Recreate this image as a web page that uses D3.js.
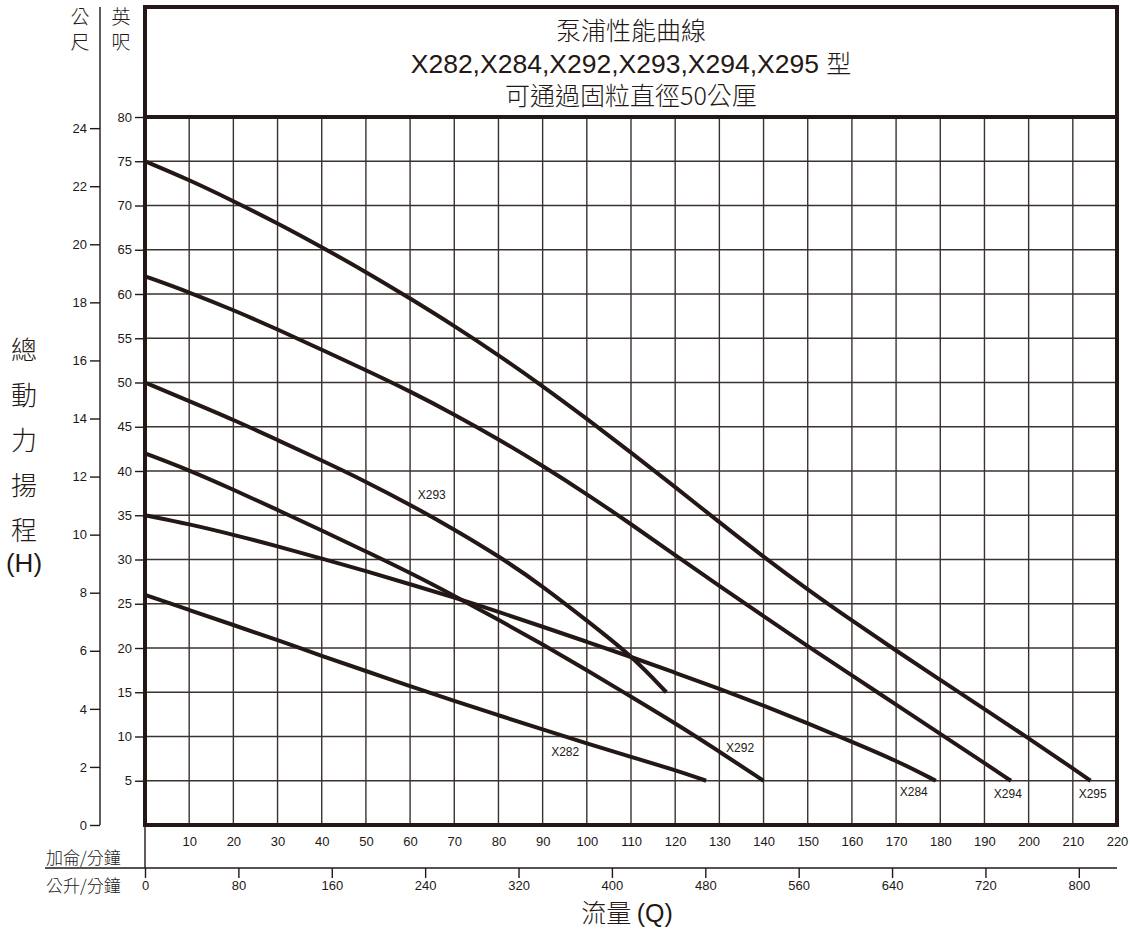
<!DOCTYPE html>
<html>
<head>
<meta charset="utf-8">
<script src="https://cdn.jsdelivr.net/npm/d3@7"></script>
<style>
  body { margin: 0; background: #fff; }
  svg text { fill: #231815; }
  .cjk { font-family: "Noto Sans CJK TC", "Noto Sans CJK SC", sans-serif; font-weight: 300; }
  .num { font-family: "Liberation Sans Narrow", "Liberation Sans", Arial, sans-serif; font-size: 13px; }
</style>
</head>
<body>
<svg id="chart"></svg>
<script>
// flow in US gal/min, head in feet
const x282Flow = [0, 10, 20, 30, 40, 50, 60, 70, 80, 90, 100, 110, 120, 127];
const x282Head = [26, 24.3, 22.6, 20.9, 19.1, 17.4, 15.7, 14.0, 12.4, 10.8, 9.2, 7.7, 6.2, 5];

const x284Flow = [0, 10, 20, 30, 40, 50, 60, 70, 80, 90, 100, 110, 120, 130, 140, 150, 160, 170, 179];
const x284Head = [35, 34.0, 32.8, 31.5, 30.1, 28.7, 27.2, 25.7, 24.1, 22.4, 20.7, 19.0, 17.2, 15.4, 13.5, 11.5, 9.4, 7.3, 5];

const x292Flow = [0, 10, 20, 30, 40, 50, 60, 70, 80, 90, 100, 110, 120, 130, 140];
const x292Head = [42, 40.1, 37.9, 35.6, 33.3, 30.9, 28.5, 25.9, 23.2, 20.4, 17.5, 14.5, 11.5, 8.3, 5];

const x293Flow = [0, 10, 20, 30, 40, 50, 60, 70, 80, 90, 100, 110, 118];
const x293Head = [50, 47.9, 45.8, 43.5, 41.2, 38.8, 36.2, 33.4, 30.4, 27.0, 23.1, 19.2, 15];

const x294Flow = [0, 10, 20, 30, 40, 50, 60, 70, 80, 90, 100, 110, 120, 130, 140, 150, 160, 170, 180, 190, 196];
const x294Head = [62, 60.2, 58.2, 56.0, 53.7, 51.4, 49.0, 46.4, 43.6, 40.6, 37.4, 34.0, 30.5, 27.0, 23.6, 20.2, 16.9, 13.6, 10.3, 7.0, 5];

const x295Flow = [0, 10, 20, 30, 40, 50, 60, 70, 80, 90, 100, 110, 120, 130, 140, 150, 160, 170, 180, 190, 200, 210, 214];
const x295Head = [75, 72.9, 70.5, 68.0, 65.3, 62.5, 59.5, 56.4, 53.1, 49.6, 45.9, 42.1, 38.2, 34.2, 30.3, 26.6, 23.1, 19.7, 16.4, 13.1, 9.8, 6.4, 5];

const modelNames = ["X282", "X284", "X292", "X293", "X294", "X295"];
// where each model name is written (gal/min, ft)
const labelFlow = [95.1, 174.0, 134.7, 64.9, 195.3, 214.5];
const labelHead = [8.3, 3.76, 8.7, 37.3, 3.53, 3.53];

const gpmTicks = d3.range(10, 221, 10);
const lpmTicks = d3.range(0, 801, 80);
const ftTicks = d3.range(5, 81, 5);
const mTicks = d3.range(0, 25, 2);

const titleLines = ["泵浦性能曲線", "X282,X284,X292,X293,X294,X295 ", "型", "可通過固粒直徑50公厘"];
const yTitle = ["總", "動", "力", "揚", "程", "(H)"];

const W = 1130, H = 949;
const plotL = 145, plotR = 1117, frameT = 7, plotB = 825, plotT = 117;
const ink = "#231815", gridInk = "#3a3230";

const svg = d3.select("#chart").attr("width", W).attr("height", H);

const x = d3.scaleLinear().domain([0, 220]).range([plotL, plotR]);
const y = d3.scaleLinear().domain([0, 80]).range([plotB, plotT]);
const yM = d3.scaleLinear().domain([0, 80 * 0.3048]).range([plotB, plotT]);
const xL = d3.scaleLinear().domain([0, 220 * 3.785]).range([plotL, plotR]);

// grid
const grid = svg.append("g").attr("stroke", gridInk).attr("stroke-width", 1.4);
grid.selectAll(".gv").data(gpmTicks.filter(d => d < 220)).enter().append("line")
  .attr("x1", d => x(d)).attr("x2", d => x(d))
  .attr("y1", y(80)).attr("y2", y(0));
grid.selectAll(".gh").data(ftTicks.filter(d => d < 80)).enter().append("line")
  .attr("x1", x(0)).attr("x2", x(220))
  .attr("y1", d => y(d)).attr("y2", d => y(d));

// feet axis
const ftAxis = svg.append("g").attr("transform", `translate(${plotL},0)`)
  .call(d3.axisLeft(y).tickValues(ftTicks).tickSize(10).tickPadding(3).tickSizeOuter(0));
ftAxis.select(".domain").remove();

// metre axis
const mAxis = svg.append("g").attr("transform", "translate(100,0)")
  .call(d3.axisLeft(yM).tickValues(mTicks).tickSize(10).tickPadding(3).tickSizeOuter(0));
mAxis.select(".domain").remove();
svg.append("line").attr("x1", 100).attr("x2", 100).attr("y1", frameT).attr("y2", plotB)
  .attr("stroke", ink).attr("stroke-width", 1.4);

// gallons axis
const gAxis = svg.append("g").attr("transform", `translate(0,${plotB})`)
  .call(d3.axisBottom(x).tickValues(gpmTicks).tickSize(0).tickPadding(12));
gAxis.select(".domain").remove();

// litres axis
const lpmY = 868;
const lAxis = svg.append("g").attr("transform", `translate(0,${lpmY})`)
  .call(d3.axisBottom(xL).tickValues(lpmTicks).tickSize(10).tickPadding(3).tickSizeOuter(0));
lAxis.select(".domain").remove();
svg.append("line").attr("x1", 45).attr("x2", plotR).attr("y1", lpmY).attr("y2", lpmY)
  .attr("stroke", ink).attr("stroke-width", 1.4);
svg.append("line").attr("x1", plotL).attr("x2", plotL).attr("y1", plotB).attr("y2", lpmY)
  .attr("stroke", ink).attr("stroke-width", 1.4);

svg.selectAll(".tick line").attr("stroke", ink).attr("stroke-width", 1.4);
svg.selectAll(".tick text").attr("class", "num").attr("fill", ink);
svg.selectAll("g").filter(function() { return this.hasAttribute("font-family"); })
  .attr("font-family", null).attr("font-size", null);

// frame
const frame = svg.append("g").attr("stroke", ink).attr("stroke-width", 4).attr("fill", "none");
frame.append("rect").attr("x", plotL).attr("y", frameT).attr("width", plotR - plotL).attr("height", plotB - frameT);
frame.append("line").attr("x1", plotL).attr("x2", plotR).attr("y1", plotT).attr("y2", plotT);

// curves
const flows = [x282Flow, x284Flow, x292Flow, x293Flow, x294Flow, x295Flow];
const heads = [x282Head, x284Head, x292Head, x293Head, x294Head, x295Head];
const line = d3.line().x(d => x(d[0])).y(d => y(d[1])).curve(d3.curveBasis);

svg.append("g").selectAll("path")
  .data(modelNames.map((m, i) => flows[i].map((f, j) => [f, heads[i][j]])))
  .enter().append("path")
  .attr("d", line)
  .attr("fill", "none")
  .attr("stroke", ink)
  .attr("stroke-width", 4);

svg.append("g").selectAll("text")
  .data(modelNames).enter().append("text")
  .attr("x", (d, i) => x(labelFlow[i]))
  .attr("y", (d, i) => y(labelHead[i]))
  .attr("text-anchor", "middle")
  .attr("dy", "0.35em")
  .style("font-family", "'Liberation Sans Narrow', 'Liberation Sans', sans-serif")
  .style("font-size", "12px")
  .text(d => d);

// title block
const tcx = (plotL + plotR) / 2;
const title = svg.append("text").attr("text-anchor", "middle").style("font-size", "25px");
title.append("tspan").attr("class", "cjk").attr("x", tcx).attr("y", 40).text(titleLines[0]);
const t2 = title.append("tspan").attr("x", tcx).attr("y", 73);
t2.append("tspan").style("font-family", "'Liberation Sans', Arial, sans-serif").style("font-size", "26.5px").text(titleLines[1]);
t2.append("tspan").attr("class", "cjk").text(titleLines[2]);
title.append("tspan").attr("class", "cjk").attr("x", tcx).attr("y", 105).text(titleLines[3]);

// unit headers
[["公", "尺", 80], ["英", "呎", 121]].forEach(([a, b, cx]) => {
  const t = svg.append("text").attr("class", "cjk").attr("text-anchor", "middle").style("font-size", "19px");
  t.append("tspan").attr("x", cx).attr("y", 24).text(a);
  t.append("tspan").attr("x", cx).attr("y", 49).text(b);
});

// axis titles
const yt = svg.append("text").attr("text-anchor", "middle").style("font-size", "26px");
yTitle.forEach((d, i) => {
  yt.append("tspan").attr("class", i < 5 ? "cjk" : null)
    .style("font-family", i < 5 ? null : "'Liberation Sans', sans-serif")
    .attr("x", 24).attr("y", i < 5 ? 360 + i * 45 : 572).text(d);
});

svg.append("text").attr("x", 627).attr("y", 922).attr("text-anchor", "middle")
  .style("font-size", "25px")
  .call(t => {
    t.append("tspan").attr("class", "cjk").text("流量 ");
    t.append("tspan").style("font-family", "'Liberation Sans', sans-serif").text("(Q)");
  });

svg.append("text").attr("class", "cjk").attr("x", 46).attr("y", 864)
  .style("font-size", "17px").text("加侖/分鐘");
svg.append("text").attr("class", "cjk").attr("x", 46).attr("y", 892)
  .style("font-size", "17px").text("公升/分鐘");
</script>
</body>
</html>
